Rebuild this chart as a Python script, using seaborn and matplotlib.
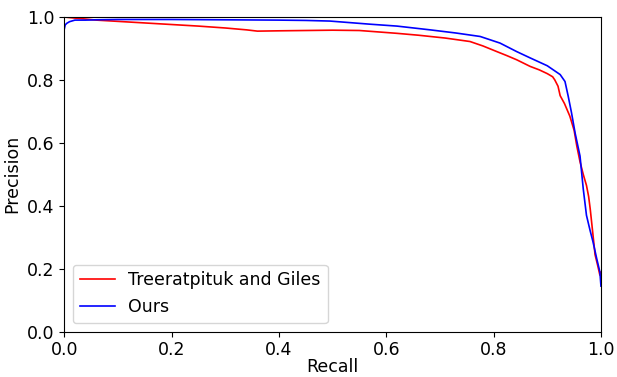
import numpy as np
import pandas as pd
import matplotlib
matplotlib.use("Agg")
import matplotlib.pyplot as plt
import seaborn as sns

# precision-recall points
recall_tg = [0.0, 0.01, 0.03, 0.06, 0.10, 0.15, 0.20, 0.25, 0.30, 0.34, 0.36, 0.40, 0.45, 0.50, 0.55,
             0.62, 0.66, 0.71, 0.756, 0.78, 0.806, 0.825, 0.843, 0.868, 0.885, 0.90, 0.91, 0.914,
             0.92, 0.924, 0.932, 0.942, 0.95, 0.955, 0.961, 0.967, 0.973, 0.977, 0.98, 0.985, 0.989,
             0.994, 0.998, 1.0]
prec_tg = [1.0, 0.998, 0.995, 0.99, 0.986, 0.981, 0.976, 0.971, 0.965, 0.959, 0.955, 0.956, 0.957, 0.958, 0.957,
           0.948, 0.942, 0.933, 0.922, 0.908, 0.89, 0.877, 0.864, 0.843, 0.832, 0.82, 0.81, 0.80,
           0.78, 0.75, 0.725, 0.685, 0.64, 0.59, 0.54, 0.50, 0.465, 0.43, 0.39, 0.31, 0.245,
           0.21, 0.18, 0.19]

recall_ours = [0.0, 0.002, 0.005, 0.01, 0.02, 0.04, 0.06, 0.10, 0.20, 0.30, 0.40, 0.45, 0.495, 0.57, 0.62,
               0.682, 0.73, 0.775, 0.812, 0.843, 0.868, 0.90, 0.924, 0.933, 0.939, 0.945, 0.952,
               0.961, 0.967, 0.973, 0.98, 0.985, 0.992, 0.998, 1.0]
prec_ours = [0.96, 0.975, 0.98, 0.985, 0.99, 0.99, 0.991, 0.992, 0.992, 0.991, 0.99, 0.989, 0.987, 0.977, 0.971,
             0.959, 0.949, 0.938, 0.917, 0.89, 0.87, 0.845, 0.817, 0.795, 0.748, 0.697, 0.63,
             0.558, 0.454, 0.37, 0.32, 0.287, 0.233, 0.19, 0.145]

df = pd.concat([
    pd.DataFrame({"Recall": recall_tg, "Precision": prec_tg, "method": "Treeratpituk and Giles"}),
    pd.DataFrame({"Recall": recall_ours, "Precision": prec_ours, "method": "Ours"}),
])

fs = 12.5
fig, ax = plt.subplots(figsize=(6.17, 3.77), dpi=100)
sns.lineplot(data=df, x="Recall", y="Precision", hue="method", sort=False, estimator=None,
             palette={"Treeratpituk and Giles": "red", "Ours": "blue"}, linewidth=1.2, ax=ax)

ax.set_xlim(0, 1)
ax.set_ylim(0, 1)
ax.set_xticks(np.arange(0, 1.01, 0.2))
ax.set_yticks(np.arange(0, 1.01, 0.2))
ax.tick_params(labelsize=fs)
ax.set_xlabel("Recall", fontsize=fs, labelpad=-1)
ax.set_ylabel("Precision", fontsize=fs, labelpad=4)
ax.legend(title=None, loc="lower left", fontsize=fs)

fig.subplots_adjust(left=0.104, right=0.974, top=0.955, bottom=0.12)
fig.savefig("out.png", dpi=100)
